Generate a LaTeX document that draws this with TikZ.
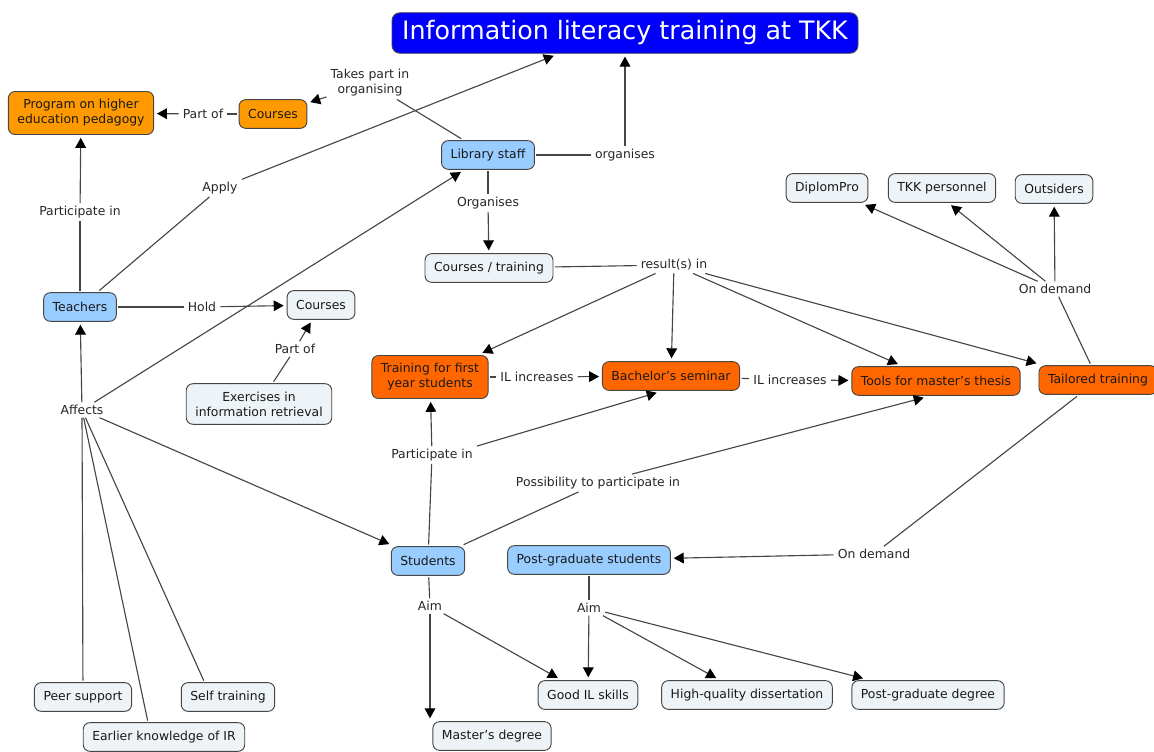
\documentclass[tikz,border=0pt]{standalone}
\usepackage{fontspec}
\setmainfont{DejaVu Sans}
\usetikzlibrary{arrows.meta,calc}

\definecolor{titleblue}{RGB}{0,0,250}
\definecolor{lightorange}{RGB}{255,153,0}
\definecolor{darkorange}{RGB}{255,102,0}
\definecolor{skyblue}{RGB}{153,204,255}
\definecolor{paleblue}{RGB}{237,243,246}
\definecolor{edgegray}{RGB}{70,70,70}

\begin{document}
\begin{tikzpicture}[x=0.75pt,y=-0.75pt,
  concept/.style={draw=edgegray,line width=0.7pt,rounded corners=5pt,inner xsep=6.8pt,inner ysep=6pt,
    minimum height=21.5pt,outer sep=1.5pt,align=center,text=black!90,font=\fontsize{9.3}{11.25}\selectfont},
  pale/.style={concept,fill=paleblue},
  sky/.style={concept,fill=skyblue},
  orng/.style={concept,fill=lightorange},
  dorng/.style={concept,fill=darkorange},
  phrase/.style={inner xsep=3pt,inner ysep=2pt,align=center,text=black!85,font=\fontsize{9.3}{11.25}\selectfont},
  link/.style={draw=edgegray,line width=0.85pt},
  arr/.style={link,-{Triangle[length=7.5pt,width=8pt,color=black]},shorten >=1pt}]

\useasboundingbox (0,0) rectangle (1154,752);

% concepts
\node[concept,fill=titleblue,text=white,rounded corners=6pt,minimum width=349.5pt,minimum height=30pt,
  font=\fontsize{19}{22}\selectfont] (title) at (625,33) {Information literacy training at TKK};
\node[orng] (program) at (81,113) {Program on higher\\education pedagogy};
\node[orng] (courseso) at (273,114) {Courses};
\node[sky] (libstaff) at (488,155) {Library staff};
\node[pale] (coursestr) at (489,268) {Courses / training};
\node[pale] (diplompro) at (827,188) {DiplomPro};
\node[pale] (tkkpers) at (942,188) {TKK personnel};
\node[pale] (outsiders) at (1054,189) {Outsiders};
\node[sky] (teachers) at (80,307) {Teachers};
\node[pale] (coursesh) at (321,305) {Courses};
\node[pale] (exercises) at (259,404) {Exercises in\\information retrieval};
\node[dorng] (firstyear) at (430,377) {Training for first\\year students};
\node[dorng] (bachelor) at (671,376) {Bachelor's seminar};
\node[dorng] (tools) at (936,381) {Tools for master's thesis};
\node[dorng] (tailored) at (1098,380) {Tailored training};
\node[sky] (students) at (428,561) {Students};
\node[sky] (pgstudents) at (589,560) {Post-graduate students};
\node[pale] (peer) at (83,697) {Peer support};
\node[pale] (earlier) at (164,737) {Earlier knowledge of IR};
\node[pale] (selftr) at (228,697) {Self training};
\node[pale] (masters) at (492,736) {Master's degree};
\node[pale] (goodil) at (588,695) {Good IL skills};
\node[pale] (hqdiss) at (747,695) {High-quality dissertation};
\node[pale] (pgdeg) at (928,695) {Post-graduate degree};

% linking phrases
\node[phrase] (takespart) at (370,83) {Takes part in\\organising};
\node[phrase] (partof1) at (203,114) {Part of};
\node[phrase] (organises1) at (625,155) {organises};
\node[phrase] (apply) at (220,188) {Apply};
\node[phrase] (partin1) at (80,212) {Participate in};
\node[phrase] (organises2) at (488,203) {Organises};
\node[phrase] (resultsin) at (674,265) {result(s) in};
\node[phrase] (ondemand1) at (1055,289) {On demand};
\node[phrase] (hold) at (202,307) {Hold};
\node[phrase] (partof2) at (295,349) {Part of};
\node[phrase] (ilinc1) at (537,377) {IL increases};
\node[phrase] (ilinc2) at (790,380) {IL increases};
\node[phrase] (affects) at (82,410) {Affects};
\node[phrase] (partin2) at (432,455) {Participate in};
\node[phrase] (possib) at (598,483) {Possibility to participate in};
\node[phrase] (ondemand2) at (874,554) {On demand};
\node[phrase] (aim1) at (430,606) {Aim};
\node[phrase] (aim2) at (589,608) {Aim};

% library staff
\draw[link] (libstaff) -- (takespart);
\draw[arr] (takespart) -- (courseso);
\draw[link] (libstaff) -- (organises1);
\draw[arr] (organises1) -- (title);
\draw[link] (libstaff) -- (organises2);
\draw[arr] (organises2) -- (coursestr);
\draw[link] (courseso) -- (partof1);
\draw[arr] (partof1) -- (program);

% teachers
\draw[link] (teachers) -- (partin1);
\draw[arr] (partin1) -- (program);
\draw[link] (teachers) -- (apply);
\draw[arr] (apply) -- ($(title.south)+(-70,0)$);
\draw[link] (teachers) -- (hold);
\draw[arr] (hold) -- (coursesh);
\draw[link] (exercises) -- (partof2);
\draw[arr] (partof2) -- (coursesh);

% results of the training
\draw[link] (coursestr) -- (resultsin);
\foreach \t in {firstyear,bachelor,tools,tailored}
  \draw[arr] (resultsin) -- (\t);
\draw[link] (firstyear) -- (ilinc1);
\draw[arr] (ilinc1) -- (bachelor);
\draw[link] (bachelor) -- (ilinc2);
\draw[arr] (ilinc2) -- (tools);
\draw[link] (tailored) -- (ondemand1);
\draw[arr] (ondemand1) -- (diplompro);
\draw[arr] (ondemand1) -- ($(tkkpers.south)+(8,0)$);
\draw[arr] (ondemand1) -- (outsiders);
\draw[link] (tailored) -- (ondemand2);
\draw[arr] (ondemand2) -- (pgstudents);

% what affects
\draw[link] (peer) -- (affects);
\draw[link] (earlier.135) -- (affects);
\draw[link] (selftr.146) -- (affects);
\draw[arr] (affects) -- (teachers);
\draw[arr] (affects) -- (libstaff);
\draw[arr] (affects) -- (students);

% students
\draw[link] (students) -- (partin2);
\draw[arr] (partin2) -- (firstyear);
\draw[arr] (partin2.north east) -- ($(bachelor.south)+(-13,0)$);
\draw[link] (students) -- (possib);
\draw[arr] (possib) -- ($(tools.south)+(-11,0)$);
\draw[link] (students) -- (aim1);
\draw[arr] (aim1) -- (aim1 |- masters.north);
\draw[arr] (aim1) -- (goodil);
\draw[link] (pgstudents) -- (aim2);
\draw[arr] (aim2) -- (goodil);
\draw[arr] (aim2) -- (hqdiss);
\draw[arr] (aim2) -- (pgdeg);
\end{tikzpicture}
\end{document}
